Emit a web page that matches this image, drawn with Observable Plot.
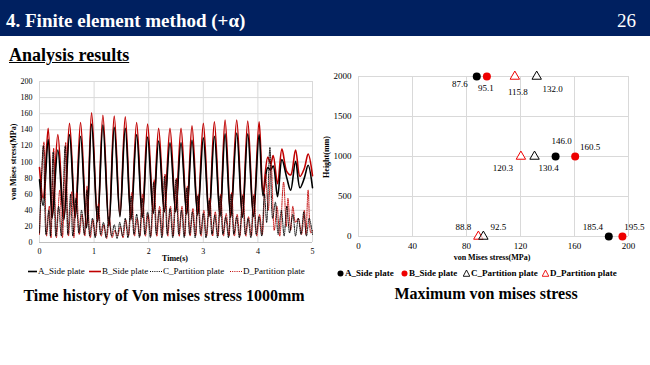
<!DOCTYPE html>
<html>
<head>
<meta charset="utf-8">
<script src="https://cdn.jsdelivr.net/npm/d3@7"></script>
<script src="https://cdn.jsdelivr.net/npm/@observablehq/plot@0.6"></script>
<style>
  html, body { margin: 0; padding: 0; background: #fff; }
  body { width: 650px; height: 365px; position: relative; overflow: hidden; font-family: "Liberation Serif", "Times New Roman", "DejaVu Serif", serif; color: #000; }
  .abs { position: absolute; white-space: nowrap; line-height: 1; }
  #header { position: absolute; left: 0; top: 0; width: 650px; height: 36px; background: #002060; }
  .bold { font-weight: bold; }
  .leg { font-size: 9px; }
</style>
</head>
<body>
<div id="header"></div>
<div class="abs bold" style="left:6px; top:11px; font-size:19px; color:#fff;">4. Finite element method (+α)</div>
<div class="abs" style="left:617px; top:11px; font-size:19px; color:#fff;">26</div>
<div class="abs bold" style="left:9px; top:46px; font-size:18px; text-decoration:underline;">Analysis results</div>

<div id="left" style="position:absolute; left:0; top:70px;"></div>
<div id="right" style="position:absolute; left:320px; top:60px;"></div>

<!-- axis titles -->
<div class="abs bold" style="left:14px; top:162px; font-size:8px; transform:translate(-50%,-50%) rotate(-90deg);">von Mises stress(MPa)</div>
<div class="abs bold" style="left:175px; top:259px; font-size:8px; transform:translate(-50%,-50%);">Time(s)</div>
<div class="abs bold" style="left:327px; top:157px; font-size:8px; transform:translate(-50%,-50%) rotate(-90deg);">Height(mm)</div>
<div class="abs bold" style="left:492px; top:258px; font-size:8px; transform:translate(-50%,-50%);">von Mises stress(MPa)</div>

<!-- legends -->
<div id="legL"></div>
<div id="legR"></div>

<!-- captions -->
<div class="abs bold" style="left:164px; top:296px; font-size:16px; transform:translate(-50%,-50%);">Time history of Von mises stress 1000mm</div>
<div class="abs bold" style="left:486px; top:294px; font-size:16px; transform:translate(-50%,-50%);">Maximum von mises stress</div>

<script>
// ---------- Left chart data: time (s), von Mises stress (MPa) ----------
const seriesNames = ["A_Side plate", "B_Side plate", "C_Partition plate", "D_Partition plate"];
const ticksTime = [0, 1, 2, 3, 4, 5];
const ticksStress = [0, 20, 40, 60, 80, 100, 120, 140, 160, 180, 200];

const histA = [[0,78],[0.067,46],[0.159,128],[0.232,30],[0.336,115],[0.446,28],[0.55,134],[0.654,31],[0.752,132],[0.862,18],[0.954,147],[1.064,26],[1.161,146],[1.271,20],[1.369,143],[1.473,32],[1.571,142],[1.675,28],[1.779,134],[1.883,31],[1.98,131],[2.084,36],[2.182,126],[2.286,38],[2.39,124],[2.494,38],[2.592,124],[2.696,35],[2.793,127],[2.897,34],[3.001,130],[3.105,32],[3.203,132],[3.307,32],[3.399,135],[3.502,31],[3.612,136],[3.716,31],[3.814,135],[3.918,32],[4.022,134],[4.095,58],[4.18,93],[4.23,90],[4.28,95],[4.36,57],[4.44,103],[4.53,80],[4.6,65],[4.69,101],[4.77,68],[4.85,80],[4.92,96],[5.0,68]];

const histB = [[0,93],[0.067,55],[0.159,142],[0.232,32],[0.336,134],[0.446,30],[0.55,148],[0.654,32],[0.752,149],[0.862,20],[0.954,161],[1.064,26],[1.161,158],[1.271,22],[1.369,157],[1.473,34],[1.571,156],[1.675,30],[1.779,149],[1.883,33],[1.98,147],[2.084,38],[2.182,142],[2.286,40],[2.39,142],[2.494,40],[2.592,142],[2.696,37],[2.793,145],[2.897,36],[3.001,148],[3.105,34],[3.203,150],[3.307,34],[3.399,152],[3.502,33],[3.612,152],[3.716,33],[3.814,151],[3.918,34],[4.022,150],[4.095,63],[4.18,106],[4.235,98],[4.28,108],[4.36,73],[4.44,116],[4.53,88],[4.6,84],[4.69,115],[4.77,82],[4.85,92],[4.92,110],[5.0,83]];

const histC = [[0,12],[0.07,120],[0.12,10],[0.17,40],[0.2,8],[0.25,112],[0.3,8],[0.35,45],[0.4,8],[0.47,120],[0.52,10],[0.57,60],[0.61,8],[0.67,55],[0.72,12],[0.77,40],[0.82,10],[0.87,65],[0.92,8],[0.97,30],[1.02,6],[1.07,45],[1.12,10],[1.17,25],[1.22,6],[1.27,32],[1.32,8],[1.37,22],[1.42,5],[1.47,25],[1.52,8],[1.57,30],[1.62,6],[1.68,58],[1.73,10],[1.78,35],[1.83,6],[1.88,55],[1.93,10],[1.98,38],[2.03,6],[2.09,75],[2.14,10],[2.19,40],[2.24,6],[2.29,82],[2.34,10],[2.39,42],[2.44,6],[2.5,78],[2.55,10],[2.6,40],[2.65,6],[2.7,68],[2.75,10],[2.8,38],[2.85,6],[2.9,58],[2.95,10],[3.0,36],[3.05,6],[3.11,52],[3.16,10],[3.21,34],[3.26,6],[3.31,58],[3.36,10],[3.41,32],[3.46,6],[3.51,60],[3.56,10],[3.61,32],[3.66,6],[3.72,58],[3.77,10],[3.82,30],[3.87,6],[3.92,58],[3.97,10],[4.02,32],[4.07,8],[4.12,60],[4.16,25],[4.22,118],[4.27,30],[4.32,50],[4.37,10],[4.43,40],[4.48,8],[4.53,45],[4.58,12],[4.64,35],[4.69,8],[4.74,30],[4.79,10],[4.84,38],[4.89,8],[4.94,30],[5.0,10]];

const histD = [[0,10],[0.08,125],[0.13,8],[0.18,45],[0.21,6],[0.26,117],[0.31,6],[0.37,65],[0.42,6],[0.48,124],[0.53,8],[0.59,63],[0.63,6],[0.68,62],[0.73,10],[0.78,35],[0.83,8],[0.87,70],[0.93,6],[0.98,28],[1.03,8],[1.08,48],[1.13,8],[1.18,22],[1.23,5],[1.28,30],[1.33,6],[1.38,15],[1.43,8],[1.48,20],[1.53,6],[1.58,28],[1.63,8],[1.69,62],[1.74,8],[1.79,30],[1.84,8],[1.89,60],[1.94,8],[1.99,35],[2.04,8],[2.1,78],[2.15,8],[2.2,45],[2.25,8],[2.3,85],[2.35,8],[2.4,45],[2.45,8],[2.51,80],[2.56,8],[2.61,45],[2.66,8],[2.71,70],[2.76,8],[2.81,42],[2.86,8],[2.91,60],[2.96,8],[3.01,40],[3.06,8],[3.12,55],[3.17,8],[3.22,38],[3.27,8],[3.32,60],[3.37,8],[3.42,36],[3.47,8],[3.52,62],[3.57,8],[3.62,35],[3.67,8],[3.73,60],[3.78,8],[3.83,32],[3.88,8],[3.93,60],[3.98,8],[4.03,35],[4.08,10],[4.14,85],[4.19,40],[4.24,100],[4.3,15],[4.35,45],[4.4,8],[4.47,75],[4.52,20],[4.55,55],[4.6,15],[4.64,45],[4.69,25],[4.74,30],[4.8,10],[4.85,40],[4.88,10],[4.92,65],[4.97,12],[5.0,15]];

// ---------- Right chart data: height (mm), max von Mises stress (MPa) ----------
const heights = [2000, 1000, 0];
const maxA = [87.6, 146.0, 185.4];
const maxB = [95.1, 160.5, 195.5];
const maxC = [132.0, 130.4, 92.5];
const maxD = [115.8, 120.3, 88.8];
const ticksMaxStress = [0, 40, 80, 120, 160, 200];
const ticksHeight = [0, 500, 1000, 1500, 2000];

// ---------- styles / layout (not data) ----------
const RED = "#c00000";
const RED_DOT = "#ee0000";
const GRID = "#d9d9d9";
const FONT = "Liberation Serif, Times New Roman, DejaVu Serif, serif";
const labelOffsets = {
  A: [[-17, 8], [6, -15], [-16, -9]],
  B: [[-1, 12], [15, -9], [12, -9]],
  C: [[16, 13], [14, 12], [15, -9]],
  D: [[3, 16], [-18, 12], [-15, -9]]
};

const toObj = arr => arr.map(([t, v]) => ({t, v}));
const plain = d => String(d);

// ---------- Left chart ----------
const left = Plot.plot({
  width: 320, height: 195,
  marginLeft: 39, marginRight: 8, marginTop: 11, marginBottom: 23,
  style: {fontFamily: FONT, fontSize: "8px", color: "#000", background: "transparent"},
  x: {domain: [0, 5], label: null},
  y: {domain: [0, 200], label: null},
  marks: [
    Plot.gridX(ticksTime, {stroke: GRID, strokeOpacity: 1}),
    Plot.gridY(ticksStress, {stroke: GRID, strokeOpacity: 1}),
    Plot.ruleY([0], {stroke: "#bfbfbf"}),
    Plot.axisX({ticks: ticksTime, tickSize: 0, tickPadding: 6, label: null, tickFormat: plain}),
    Plot.axisY({ticks: ticksStress, tickSize: 0, tickPadding: 7, label: null, tickFormat: plain}),
    Plot.line(toObj(histB), {x: "t", y: "v", stroke: RED, strokeWidth: 1.6, curve: "catmull-rom"}),
    Plot.line(toObj(histA), {x: "t", y: "v", stroke: "#000", strokeWidth: 1.6, curve: "catmull-rom"}),
    Plot.line(toObj(histD), {x: "t", y: "v", stroke: RED, strokeWidth: 1, strokeDasharray: "1,1.2", curve: "catmull-rom"}),
    Plot.line(toObj(histC), {x: "t", y: "v", stroke: "#000", strokeWidth: 1, strokeDasharray: "1,1.2", curve: "catmull-rom"})
  ]
});
document.getElementById("left").appendChild(left);

// ---------- Right chart ----------
const mk = vals => vals.map((x, i) => ({x, h: heights[i], label: x.toFixed(1), i}));
const pA = mk(maxA), pB = mk(maxB), pC = mk(maxC), pD = mk(maxD);

const labelMarks = [];
[["A", pA], ["B", pB], ["C", pC], ["D", pD]].forEach(([k, pts]) => {
  pts.forEach((p, i) => {
    const [dx, dy] = labelOffsets[k][i];
    labelMarks.push(Plot.text([p], {x: "x", y: "h", text: "label", dx, dy, fontSize: 9, fill: "#000"}));
  });
});

const right = Plot.plot({
  width: 330, height: 195,
  marginLeft: 38, marginRight: 22, marginTop: 16, marginBottom: 19,
  style: {fontFamily: FONT, fontSize: "9px", color: "#000", background: "transparent", overflow: "visible"},
  x: {domain: [0, 200], label: null},
  y: {domain: [0, 2000], label: null},
  marks: [
    Plot.gridX(ticksMaxStress, {stroke: GRID, strokeOpacity: 1}),
    Plot.gridY(ticksHeight, {stroke: GRID, strokeOpacity: 1}),
    Plot.axisX({ticks: ticksMaxStress, tickSize: 0, tickPadding: 6, label: null, tickFormat: plain}),
    Plot.axisY({ticks: ticksHeight, tickSize: 0, tickPadding: 7, label: null, tickFormat: plain}),
    Plot.dot(pD, {x: "x", y: "h", symbol: "triangle", r: 3.5, stroke: RED_DOT, strokeWidth: 1, fill: "#fff"}),
    Plot.dot(pC, {x: "x", y: "h", symbol: "triangle", r: 3.5, stroke: "#000", strokeWidth: 1, fill: "#fff", fillOpacity: 0.6}),
    Plot.dot(pA, {x: "x", y: "h", r: 4, fill: "#000", stroke: "none"}),
    Plot.dot(pB, {x: "x", y: "h", r: 4, fill: RED_DOT, stroke: "none"}),
    ...labelMarks
  ]
});
document.getElementById("right").appendChild(right);

// ---------- Legends (HTML) ----------
function addItem(container, x, y, symbolSvg, symW, text, bold) {
  const d = document.createElement("div");
  d.className = "abs leg" + (bold ? " bold" : "");
  d.style.left = x + "px";
  d.style.top = (y - 5) + "px";
  d.style.height = "10px";
  d.style.lineHeight = "10px";
  d.innerHTML = `<svg width="${symW}" height="10" style="position:absolute;left:0;top:0">${symbolSvg}</svg><span style="padding-left:${symW + 1}px">${text}</span>`;
  container.appendChild(d);
}
const legL = document.getElementById("legL");
const yL = 271;
addItem(legL, 28, yL, `<line x1="0" x2="9" y1="5.5" y2="5.5" stroke="#000" stroke-width="1.6"/>`, 9, seriesNames[0]);
addItem(legL, 89, yL, `<line x1="0" x2="12" y1="5.5" y2="5.5" stroke="${RED}" stroke-width="1.6"/>`, 12, seriesNames[1]);
addItem(legL, 150, yL, `<line x1="0" x2="12" y1="5.5" y2="5.5" stroke="#000" stroke-width="1" stroke-dasharray="1,1.2"/>`, 12, seriesNames[2]);
addItem(legL, 230, yL, `<line x1="0" x2="12" y1="5.5" y2="5.5" stroke="${RED}" stroke-width="1" stroke-dasharray="1,1.2"/>`, 12, seriesNames[3]);

const legR = document.getElementById("legR");
const yR = 273;
addItem(legR, 337, yR, `<circle cx="3.5" cy="5.5" r="3" fill="#000"/>`, 7, seriesNames[0], true);
addItem(legR, 401, yR, `<circle cx="3.5" cy="5.5" r="3" fill="${RED_DOT}"/>`, 7, seriesNames[1], true);
addItem(legR, 463, yR, `<path d="M3.5,2 L6.8,8.3 L0.2,8.3 Z" fill="none" stroke="#000" stroke-width="0.9"/>`, 7, seriesNames[2], true);
addItem(legR, 542, yR, `<path d="M3.5,2 L6.8,8.3 L0.2,8.3 Z" fill="none" stroke="${RED_DOT}" stroke-width="0.9"/>`, 7, seriesNames[3], true);
</script>
</body>
</html>
